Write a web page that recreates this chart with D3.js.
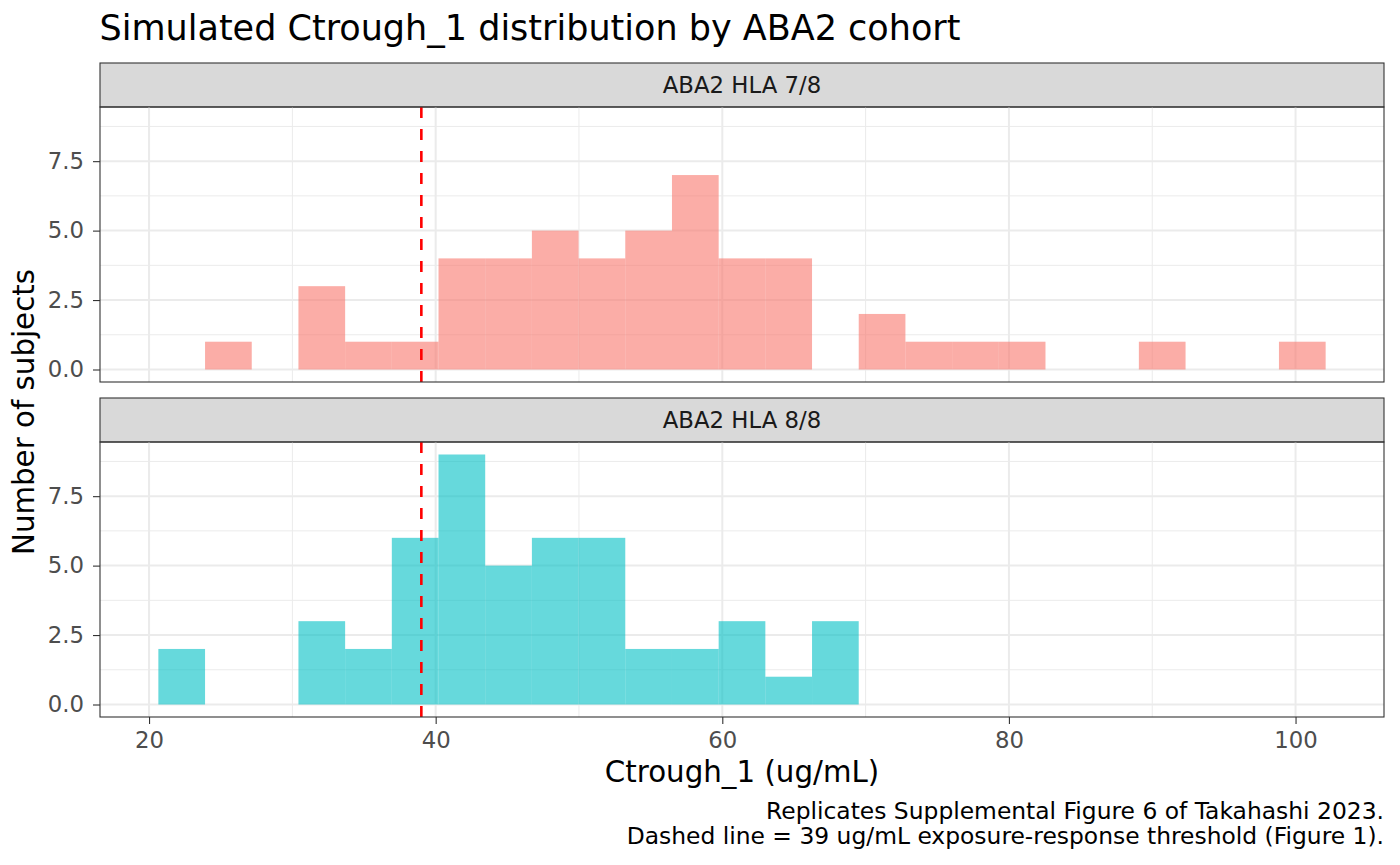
<!DOCTYPE html>
<html>
<head>
<meta charset="utf-8">
<script src="https://cdn.jsdelivr.net/npm/d3@7"></script>
<style>
  body { margin: 0; background: #fff; }
  text { font-family: "DejaVu Sans", sans-serif; }
</style>
</head>
<body>
<div id="chart"></div>
<script>
'use strict';

// histogram bins (left edge of first bin + width), counts
var binStart = 20.65;
var binWidth = 3.258;
var cohorts = ['ABA2 HLA 7/8', 'ABA2 HLA 8/8'];
var countsHLA78 = [0, 1, 0, 3, 1, 1, 4, 4, 5, 4, 5, 7, 4, 4, 0, 2, 1, 1, 1, 0, 0, 1, 0, 0, 1];
var countsHLA88 = [2, 0, 0, 3, 2, 6, 9, 5, 6, 6, 2, 2, 3, 1, 3, 0, 0, 0, 0, 0, 0, 0, 0, 0, 0];
var cohortColors = ['#F8766D', '#00BFC4'];
var threshold = 39;
var xTicks = [20, 40, 60, 80, 100];
var xMinor = [30, 50, 70, 90];
var yTicks = [0, 2.5, 5, 7.5];
var yMinor = [1.25, 3.75, 6.25, 8.75];

var W = 1400, H = 865;
var left = 100, right = 1384;
var stripH = 44, panelH = 275;
var panelTops = [107, 442];
var smallFont = '22.8px';

var svg = d3.select('#chart').append('svg')
    .attr('width', W).attr('height', H);

var nBins = countsHLA78.length;
var dMin = binStart, dMax = binStart + nBins * binWidth;
var pad = (dMax - dMin) * 0.05;
var xScale = d3.scaleLinear().domain([dMin - pad, dMax + pad]).range([left, right]);

var yMax = d3.max(countsHLA78.concat(countsHLA88));
var allCounts = [countsHLA78, countsHLA88];

function binsOf(counts) {
    return counts.map(function(c, i) {
        return {x0: binStart + i * binWidth, x1: binStart + (i + 1) * binWidth, n: c};
    }).filter(function(d) { return d.n > 0; });
}

cohorts.forEach(function(name, k) {
    var top = panelTops[k];
    var yScale = d3.scaleLinear().domain([-yMax * 0.05, yMax * 1.05]).range([top + panelH, top]);
    var g = svg.append('g');

    // strip
    g.append('rect')
        .attr('x', left).attr('y', top - stripH)
        .attr('width', right - left).attr('height', stripH)
        .style('fill', '#D9D9D9').style('stroke', '#333333').style('stroke-width', 1.1);
    g.append('text')
        .attr('x', (left + right) / 2).attr('y', top - stripH / 2)
        .attr('dy', '0.36em')
        .style('text-anchor', 'middle').style('font-size', smallFont).style('fill', '#1A1A1A')
        .text(name);

    // grid
    g.selectAll('.xminor').data(xMinor).enter().append('line')
        .attr('x1', function(d) { return xScale(d); }).attr('x2', function(d) { return xScale(d); })
        .attr('y1', top).attr('y2', top + panelH)
        .style('stroke', '#EBEBEB').style('stroke-width', 1);
    g.selectAll('.yminor').data(yMinor).enter().append('line')
        .attr('x1', left).attr('x2', right)
        .attr('y1', function(d) { return yScale(d); }).attr('y2', function(d) { return yScale(d); })
        .style('stroke', '#EBEBEB').style('stroke-width', 1);
    g.selectAll('.xmajor').data(xTicks).enter().append('line')
        .attr('x1', function(d) { return xScale(d); }).attr('x2', function(d) { return xScale(d); })
        .attr('y1', top).attr('y2', top + panelH)
        .style('stroke', '#EBEBEB').style('stroke-width', 2);
    g.selectAll('.ymajor').data(yTicks).enter().append('line')
        .attr('x1', left).attr('x2', right)
        .attr('y1', function(d) { return yScale(d); }).attr('y2', function(d) { return yScale(d); })
        .style('stroke', '#EBEBEB').style('stroke-width', 2);

    // bars
    g.selectAll('.bar').data(binsOf(allCounts[k])).enter().append('rect')
        .attr('x', function(d) { return xScale(d.x0); })
        .attr('y', function(d) { return yScale(d.n); })
        .attr('width', function(d) { return xScale(d.x1) - xScale(d.x0); })
        .attr('height', function(d) { return yScale(0) - yScale(d.n); })
        .style('fill', cohortColors[k]).style('fill-opacity', 0.6);

    // threshold line
    g.append('line')
        .attr('x1', xScale(threshold)).attr('x2', xScale(threshold))
        .attr('y1', top + panelH).attr('y2', top)
        .style('stroke', '#FF0000').style('stroke-width', 2.6)
        .style('stroke-dasharray', '11,11');

    // border
    g.append('rect')
        .attr('x', left).attr('y', top)
        .attr('width', right - left).attr('height', panelH)
        .style('fill', 'none').style('stroke', '#333333').style('stroke-width', 1.1);

    // y axis
    var yAxis = d3.axisLeft(yScale).tickValues(yTicks).tickSize(7).tickPadding(9)
        .tickFormat(d3.format('.1f'));
    var ya = svg.append('g').attr('transform', 'translate(' + left + ',0)').call(yAxis);
    ya.select('.domain').remove();
    ya.selectAll('line').style('stroke', '#333333').style('stroke-width', 1.1);
    ya.selectAll('text').style('font-size', smallFont).style('fill', '#4D4D4D')
        .style('font-family', 'DejaVu Sans');
});

// x axis under bottom panel
var xAxis = d3.axisBottom(xScale).tickValues(xTicks).tickSize(7).tickPadding(8);
var xa = svg.append('g')
    .attr('transform', 'translate(0,' + (panelTops[1] + panelH) + ')')
    .call(xAxis);
xa.select('.domain').remove();
xa.selectAll('line').style('stroke', '#333333').style('stroke-width', 1.1);
xa.selectAll('text').style('font-size', smallFont).style('fill', '#4D4D4D')
    .style('font-family', 'DejaVu Sans');

// titles
svg.append('text')
    .attr('x', 99.5).attr('y', 40)
    .style('font-size', '35px').style('fill', '#000')
    .text('Simulated Ctrough_1 distribution by ABA2 cohort');

svg.append('text')
    .attr('x', (left + right) / 2).attr('y', 782)
    .style('text-anchor', 'middle').style('font-size', '29.3px').style('fill', '#000')
    .text('Ctrough_1 (ug/mL)');

svg.append('text')
    .attr('transform', 'translate(34,' + ((panelTops[0] + panelTops[1] + panelH) / 2) + ') rotate(-90)')
    .style('text-anchor', 'middle').style('font-size', '29.3px').style('fill', '#000')
    .text('Number of subjects');

var caption = ['Replicates Supplemental Figure 6 of Takahashi 2023.',
    'Dashed line = 39 ug/mL exposure-response threshold (Figure 1).'];
svg.selectAll('.caption').data(caption).enter().append('text')
    .attr('x', right).attr('y', function(d, i) { return 819 + i * 25; })
    .style('text-anchor', 'end').style('font-size', '23.4px').style('fill', '#000')
    .text(function(d) { return d; });
</script>
</body>
</html>
